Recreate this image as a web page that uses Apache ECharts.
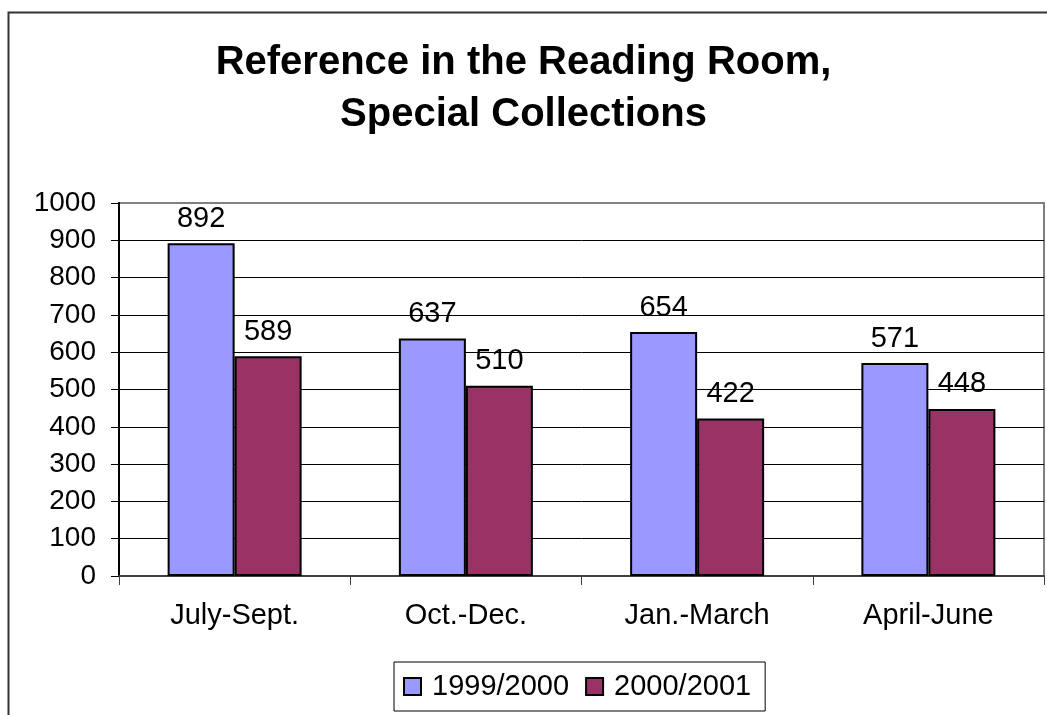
<!DOCTYPE html>
<html>
<head>
<meta charset="utf-8">
<title>Reference in the Reading Room</title>
<script src="https://cdn.jsdelivr.net/npm/echarts@6/dist/echarts.min.js"></script>
<style>
  html, body { margin: 0; padding: 0; background: #fff; }
  #chart { width: 1047px; height: 715px; }
</style>
</head>
<body>
<div id="chart"></div>
<script>
// data
const quarters = ['July-Sept.', 'Oct.-Dec.', 'Jan.-March', 'April-June'];
const year1999 = [892, 637, 654, 571];
const year2000 = [589, 510, 422, 448];
const seriesNames = ['1999/2000', '2000/2001'];
const yTicks = { min: 0, max: 1000, interval: 100 };

const FONT = '"Liberation Sans", Arial, sans-serif';

const chart = echarts.init(document.getElementById('chart'));

// gridlines are dark, the top one is part of the grey plot border
const gridColors = [];
for (let i = 0; i <= 10; i++) gridColors.push(i === 10 ? '#808080' : '#000000');

const labelStyle = {
    show: true,
    position: 'top',
    distance: 10,
    color: '#000',
    fontFamily: FONT,
    fontSize: 29
};

const option = {
    animation: false,
    backgroundColor: '#fff',
    title: {
        text: 'Reference in the Reading Room,\nSpecial Collections',
        left: 'center',
        top: 32,
        textStyle: {
            fontFamily: FONT,
            fontSize: 40,
            fontWeight: 'bold',
            color: '#000',
            lineHeight: 52
        }
    },
    graphic: [{
        // outer chart frame, runs off the right and bottom of the picture
        type: 'rect',
        shape: { x: 8.5, y: 12.5, width: 1200, height: 900 },
        style: { fill: 'none', stroke: '#333', lineWidth: 2 },
        silent: true,
        z: -1
    }],
    legend: {
        data: seriesNames,
        left: 394,
        top: 662,
        orient: 'horizontal',
        icon: 'rect',
        itemWidth: 17,
        itemHeight: 17,
        itemGap: 16,
        padding: [10, 14, 10, 9],
        borderColor: '#000',
        borderWidth: 1,
        backgroundColor: '#fff',
        textStyle: {
            fontFamily: FONT,
            fontSize: 29,
            color: '#000',
            padding: [0, 0, 0, 6]
        },
        itemStyle: { borderColor: '#000', borderWidth: 2 }
    },
    grid: {
        left: 119,
        right: 3,
        top: 203,
        bottom: 139,
        show: true,
        borderColor: '#808080',
        borderWidth: 2,
        containLabel: false
    },
    xAxis: {
        type: 'category',
        data: quarters,
        axisLine: { lineStyle: { color: '#404040', width: 2 } },
        axisTick: { show: true, length: 9, lineStyle: { color: '#404040', width: 1 } },
        axisLabel: {
            margin: 25,
            fontFamily: FONT,
            fontSize: 29,
            color: '#000'
        },
        splitLine: { show: false }
    },
    yAxis: {
        type: 'value',
        min: yTicks.min,
        max: yTicks.max,
        interval: yTicks.interval,
        axisLine: { show: true, lineStyle: { color: '#000', width: 2 } },
        axisTick: { show: true, length: 8, lineStyle: { color: '#000', width: 1 } },
        axisLabel: {
            margin: 23,
            fontFamily: FONT,
            fontSize: 28,
            color: '#000',
            formatter: v => String(v)
        },
        splitLine: { show: true, lineStyle: { color: gridColors, width: 1 } }
    },
    series: [
        {
            name: seriesNames[0],
            type: 'bar',
            data: year1999,
            barWidth: 67,
            barGap: '0%',
            itemStyle: { color: '#9999FF', borderColor: '#000', borderWidth: 2 },
            label: labelStyle
        },
        {
            name: seriesNames[1],
            type: 'bar',
            data: year2000,
            barWidth: 67,
            barGap: '0%',
            itemStyle: { color: '#993366', borderColor: '#000', borderWidth: 2 },
            label: labelStyle
        }
    ]
};

chart.setOption(option);
</script>
</body>
</html>
